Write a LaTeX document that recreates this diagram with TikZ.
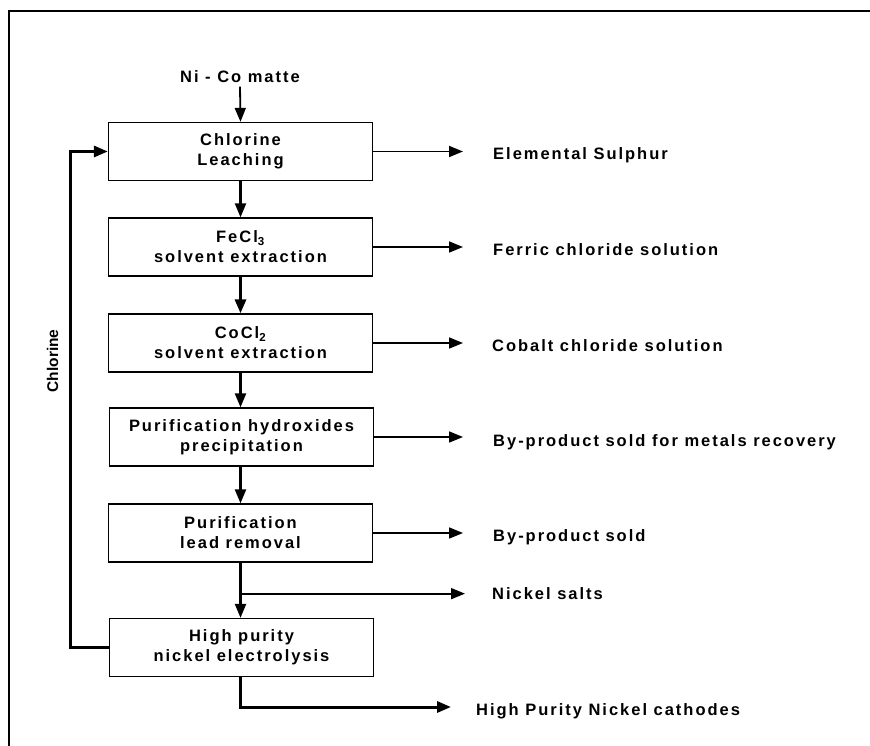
\documentclass[tikz,border=0pt]{standalone}
\usepackage{fontspec}
\setmainfont{Liberation Sans}
\newfontfamily\spaced{Liberation Sans}[LetterSpace=12]
\usetikzlibrary{arrows.meta}

\tikzset{
  lbl/.style={font=\spaced\bfseries\fontsize{16.5}{20}\selectfont, inner sep=0pt},
  stepbox/.style={draw, line width=1.3pt, minimum width=264pt, minimum height=58pt,
    align=center, font=\spaced\bfseries\fontsize{16.5}{20}\selectfont, inner sep=0pt},
  tip/.style={-{Triangle[length=14pt,width=11pt]}},
  flow/.style={tip, line width=2.2pt},
  heavy/.style={line width=3pt},
  side/.style={tip, line width=1.7pt},
}

\begin{document}
\begin{tikzpicture}[x=1pt,y=-1pt]
\useasboundingbox (0,0) rectangle (870,746);
\clip (0,0) rectangle (870,746);

% outer frame
\draw[line width=2.4pt] (9,11) rectangle (900,780);

% process steps
\node[stepbox] (leach) at (240.5,151.5) {Chlorine\\Leaching};
\node[stepbox] (fe)    at (240.5,247) {FeCl\textsubscript{3}\\solvent extraction};
\node[stepbox] (co)    at (240.5,343) {CoCl\textsubscript{2}\\solvent extraction};
\node[stepbox] (hyd)   at (241.5,437) {Purification hydroxides\\precipitation};
\node[stepbox] (lead)  at (240.5,533) {Purification\\lead removal};
\node[stepbox] (elec)  at (241.5,647.5) {High purity\\nickel electrolysis};

% feed
\node[lbl, anchor=base] (feed) at (240,82.3) {Ni - Co matte};

% products
\node[lbl, anchor=base west] (sulphur) at (493,160) {Elemental Sulphur};
\node[lbl, anchor=base west] (ferric)  at (493,255.7) {Ferric chloride solution};
\node[lbl, anchor=base west] (cobalt)  at (492,351.7) {Cobalt chloride solution};
\node[lbl, anchor=base west] (metals)  at (493,446.7) {By-product sold for metals recovery};
\node[lbl, anchor=base west] (sold)    at (493,541.7) {By-product sold};
\node[lbl, anchor=base west] (salts)   at (492,599) {Nickel salts};
\node[lbl, anchor=base west] (cathode) at (476,715) {High Purity Nickel cathodes};

% recycle label
\node[font=\bfseries\fontsize{15.5}{18}\selectfont, rotate=90, inner sep=0pt] (cl) at (52.5,361) {Chlorine};

% main flow
\draw[tip, line width=1.8pt] (feed.south) ++(0,4) -- (leach.north);
\draw[flow] (leach.south) -- (fe.north);
\draw[flow, line width=3pt] (fe.south) -- (co.north);
\draw[flow] (co.south) -- (co.south |- hyd.north);
\draw[flow] (hyd.south -| lead.north) -- (lead.north);
\draw[flow] (lead.south) -- (lead.south |- elec.north);

% side streams
\draw[side] (leach.east) -- ([xshift=-30pt]leach.east -| sulphur.west);
\draw[side] (fe.east)    -- ([xshift=-30pt]fe.east -| ferric.west);
\draw[side] (co.east)    -- ([xshift=-29pt]co.east -| cobalt.west);
\draw[side] (hyd.east)   -- ([xshift=-30pt]hyd.east -| metals.west);
\draw[side] (lead.east)  -- ([xshift=-30pt]lead.east -| sold.west);
\path (lead.south) ++(0,31) coordinate (br);
\draw[side] (br) -- ([xshift=-27pt]br -| salts.west);

% product cathodes
\coordinate (cend) at (451,707);
\draw[tip, heavy] (elec.south -| lead.south) |- (cend);

% chlorine recycle
\coordinate (loopx) at (70,0);
\draw[tip, heavy] (elec.west) -- (elec.west -| loopx) |- (leach.west);
\end{tikzpicture}
\end{document}
